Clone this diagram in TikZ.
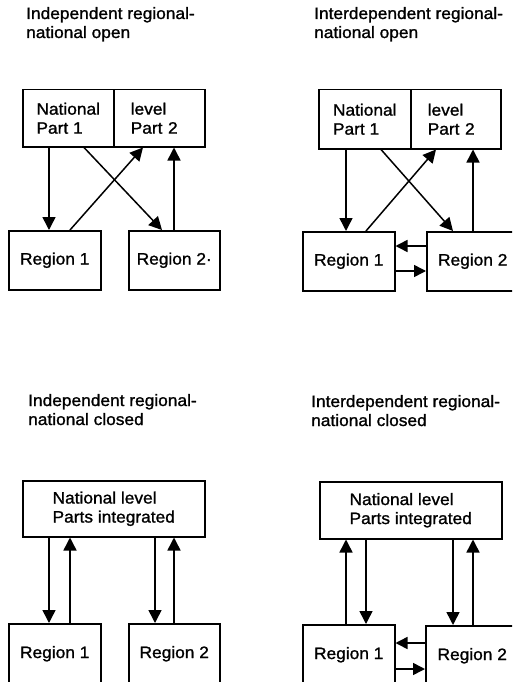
\documentclass[tikz,border=0pt]{standalone}
\usepackage{fontspec}
\setmainfont{Liberation Sans}[FakeStretch=1.05, FakeBold=1.2]
\usetikzlibrary{arrows.meta}

\begin{document}
\begin{tikzpicture}[x=1pt,y=-1pt,
  txt/.style={font=\fontsize{16.5pt}{19pt}\selectfont},
  box/.style={txt, draw, line width=1.5pt, inner sep=0pt, anchor=north west, align=left},
  caption/.style={txt, inner sep=0pt, anchor=base west, align=left},
  arr/.style={line width=1.5pt, -{Triangle[length=13pt,width=13pt]}},
  harr/.style={line width=1.5pt, -{Triangle[length=12pt,width=12pt]}}]

\useasboundingbox (0,0) rectangle (512,682);
\clip (0,0) rectangle (512,682);

% ---------- independent, open ----------
\node[caption] (t1) at (26,38) {Independent regional-\\national open};
\node[box, minimum width=91pt, minimum height=57pt] (p1nat) at (22,89) {National\\Part 1};
\node[box, minimum width=91pt, minimum height=57pt, text width=57pt, inner xsep=17pt] (p1lev) at (113,89) {level\\Part 2};
\node[box, minimum width=92pt, minimum height=59pt] (p1r1) at (8,230) {Region 1};
\node[box, minimum width=91pt, minimum height=59pt] (p1r2) at (128,230) {Region 2·};
\draw[arr] (49,0 |- p1nat.south) -- (49,0 |- p1r1.north);
\draw[arr] (70,0 |- p1r1.north) -- (143,0 |- p1lev.south);
\draw[arr] (84,0 |- p1nat.south) -- (162,0 |- p1r2.north);
\draw[arr] (174,0 |- p1r2.north) -- (174,0 |- p1lev.south);

% ---------- interdependent, open ----------
\node[caption] (t2) at (314,38) {Interdependent regional-\\national open};
\node[box, minimum width=92pt, minimum height=59pt] (p2nat) at (318,89) {National\\Part 1};
\node[box, minimum width=90pt, minimum height=59pt, text width=56pt, inner xsep=17pt] (p2lev) at (410,89) {level\\Part 2};
\node[box, minimum width=92pt, minimum height=59pt] (p2r1) at (302,231) {Region 1};
\node[box, minimum width=92pt, minimum height=59pt] (p2r2) at (426,231) {Region 2};
\draw[arr] (346,0 |- p2nat.south) -- (346,0 |- p2r1.north);
\draw[arr] (366,0 |- p2r1.north) -- (436,0 |- p2lev.south);
\draw[arr] (381,0 |- p2nat.south) -- (453,0 |- p2r2.north);
\draw[arr] (473,0 |- p2r2.north) -- (473,0 |- p2lev.south);
\draw[harr] (p2r2.west |- 0,246) -- (p2r1.east |- 0,246);
\draw[harr] (p2r1.east |- 0,271) -- (p2r2.west |- 0,271);

% ---------- independent, closed ----------
\node[caption] (t3) at (28,425) {Independent regional-\\national closed};
\node[box, minimum width=182pt, minimum height=56pt] (p3nat) at (22,480) {National level\\Parts integrated};
\node[box, minimum width=92pt, minimum height=60pt] (p3r1) at (8,623) {Region 1};
\node[box, minimum width=91pt, minimum height=60pt] (p3r2) at (128,623) {Region 2};
\draw[arr] (49,0 |- p3nat.south) -- (49,0 |- p3r1.north);
\draw[arr] (70,0 |- p3r1.north) -- (70,0 |- p3nat.south);
\draw[arr] (155,0 |- p3nat.south) -- (155,0 |- p3r2.north);
\draw[arr] (174,0 |- p3r2.north) -- (174,0 |- p3nat.south);

% ---------- interdependent, closed ----------
\node[caption] (t4) at (311,426) {Interdependent regional-\\national closed};
\node[box, minimum width=182pt, minimum height=57pt] (p4nat) at (319,481) {National level\\Parts integrated};
\node[box, minimum width=92pt, minimum height=60pt] (p4r1) at (302,624) {Region 1};
\node[box, minimum width=93pt, minimum height=60pt] (p4r2) at (425,625) {Region 2};
\draw[arr] (346,0 |- p4r1.north) -- (346,0 |- p4nat.south);
\draw[arr] (366,0 |- p4nat.south) -- (366,0 |- p4r1.north);
\draw[arr] (453,0 |- p4nat.south) -- (453,0 |- p4r2.north);
\draw[arr] (473,0 |- p4r2.north) -- (473,0 |- p4nat.south);
\draw[harr] (p4r2.west |- 0,643) -- (p4r1.east |- 0,643);
\draw[harr] (p4r1.east |- 0,669) -- (p4r2.west |- 0,669);
\end{tikzpicture}
\end{document}
